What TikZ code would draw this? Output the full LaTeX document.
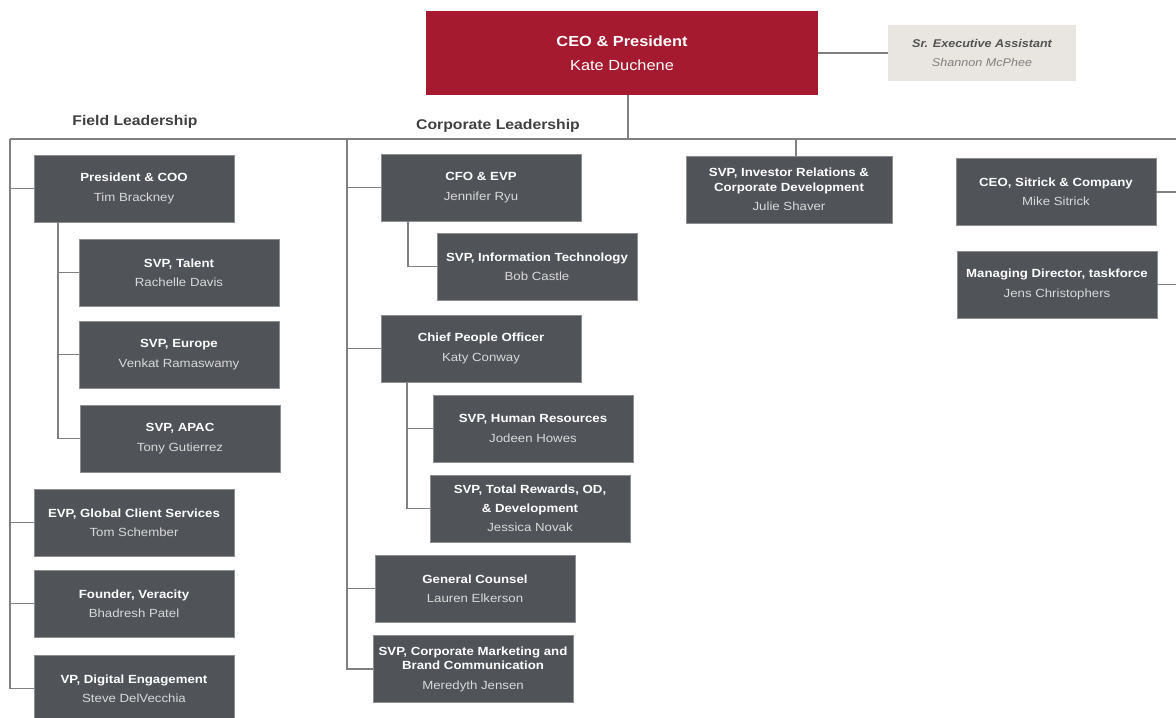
\documentclass[tikz,border=0pt]{standalone}
\usepackage{fontspec}
\setmainfont{Liberation Sans}
\newfontfamily\widefamily[FakeStretch=1.12]{Liberation Sans}
\usepackage{tikz}
\usetikzlibrary{positioning}
\definecolor{ceored}{HTML}{A51A2F}
\definecolor{boxgray}{HTML}{505358}
\definecolor{boxedge}{HTML}{8C8E92}
\definecolor{namegray}{HTML}{D9D9D9}
\definecolor{linkgray}{HTML}{808080}
\definecolor{headgray}{HTML}{404040}
\definecolor{asstfill}{HTML}{E9E6E2}
\def\role#1#2{\textbf{#1}\\[3.2pt]{\color{namegray}#2}}
\tikzset{
	person/.style={rectangle, fill=boxgray, draw=boxedge, line width=0.4pt, minimum width=5cm, minimum height=1.675cm, inner sep=0pt, align=center, text=white, font=\widefamily\fontsize{8.4}{10.5}\selectfont},
	link/.style={draw=linkgray, line width=1.4pt},
	head/.style={text=headgray, font=\widefamily\fontsize{10}{12}\selectfont\bfseries}
}

\begin{document}
\begin{tikzpicture}[x=0.025cm, y=-0.025cm]
			%%%%% START %%%%%
			\clip (0,0) rectangle (1176,717);
			
			% top
			\node[rectangle, fill=ceored, minimum width=9.8cm, minimum height=2.1cm, text=white, align=center, font=\widefamily\fontsize{10.4}{12}\selectfont] (ceo) at (622, 53) {\textbf{CEO \& President}\\[5pt]Kate Duchene};
			\node[rectangle, fill=asstfill, minimum width=4.7cm, minimum height=1.4cm, align=center, font=\widefamily\fontsize{8}{10.5}\selectfont\itshape] (asst) at (982, 53) {{\color{headgray!90}\bfseries Sr. Executive Assistant}\\[3.5pt]{\color{gray}Shannon McPhee}};
			
			\node[head] (fieldHead) at (135, 122) {Field Leadership};
			\node[head] (corpHead) at (498, 126) {Corporate Leadership};
			
			% field leadership
			\node[person] (pres) at (134, 188.5) {\role{President \& COO}{Tim Brackney}};
			\node[person] (talent) at (179, 272.5) {\role{SVP, Talent}{Rachelle Davis}};
			\node[person] (europe) at (179, 354.5) {\role{SVP, Europe}{Venkat Ramaswamy}};
			\node[person] (apac) at (180, 438.5) {\role{SVP, APAC}{Tony Gutierrez}};
			\node[person] (evp) at (134, 522.5) {\role{EVP, Global Client Services}{Tom Schember}};
			\node[person] (founder) at (134, 603.5) {\role{Founder, Veracity}{Bhadresh Patel}};
			\node[person] (vpdig) at (134, 688.5) {\role{VP, Digital Engagement}{Steve DelVecchia}};
			
			% corporate leadership
			\node[person] (cfo) at (481, 187.5) {\role{CFO \& EVP}{Jennifer Ryu}};
			\node[person] (it) at (537, 266.5) {\role{SVP, Information Technology}{Bob Castle}};
			\node[person] (cpo) at (481, 348.5) {\role{Chief People Officer}{Katy Conway}};
			\node[person] (hr) at (533, 428.5) {\role{SVP, Human Resources}{Jodeen Howes}};
			\node[person] (rewards) at (530, 508.5) {\textbf{SVP, Total Rewards, OD,}\\[3.2pt]\textbf{\& Development}\\[3.2pt]{\color{namegray}Jessica Novak}};
			\node[person] (counsel) at (475, 588.5) {\role{General Counsel}{Lauren Elkerson}};
			\node[person] (mkt) at (473, 669) {\textbf{SVP, Corporate Marketing and}\\\textbf{Brand Communication}\\[3.2pt]{\color{namegray}Meredyth Jensen}};
			
			% right side
			\node[person, minimum width=5.15cm] (inv) at (789, 189.5) {\textbf{SVP, Investor Relations \&}\\\textbf{Corporate Development}\\[3.2pt]{\color{namegray}Julie Shaver}};
			\node[person] (sitrick) at (1056, 192) {\role{CEO, Sitrick \& Company}{Mike Sitrick}};
			\node[person] (taskforce) at (1057, 284.5) {\role{Managing Director, taskforce}{Jens Christophers}};
			
			% lines
			\coordinate (busL) at (10, 139);
			\coordinate (busR) at (1176, 139);
			\coordinate (ceoDrop) at (628, 139);
			\coordinate (invDrop) at (796, 139);
			\coordinate (corpTop) at (347, 139);
			\coordinate (presStem) at (58, 222);
			\coordinate (cfoStem) at (408, 221);
			\coordinate (cpoStem) at (407, 382);
			\coordinate (rightEdge) at (1176, 0);
			
			\draw[link] (busL) -- (busR);
			\draw[link] (ceo.south -| ceoDrop) -- (ceoDrop);
			\draw[link] (ceo.east) -- (asst.west);
			\draw[link] (inv.north -| invDrop) -- (invDrop);
			
			\draw[link] (busL) |- (vpdig.west);
			\draw[link] (pres.west) -- (pres.west -| busL);
			\draw[link] (evp.west) -- (evp.west -| busL);
			\draw[link] (founder.west) -- (founder.west -| busL);
			\draw[link] (presStem) |- (apac.west);
			\draw[link] (talent.west) -- (talent.west -| presStem);
			\draw[link] (europe.west) -- (europe.west -| presStem);
			
			\draw[link] (corpTop) |- (mkt.west);
			\draw[link] (cfo.west) -- (cfo.west -| corpTop);
			\draw[link] (cpo.west) -- (cpo.west -| corpTop);
			\draw[link] (counsel.west) -- (counsel.west -| corpTop);
			\draw[link] (cfoStem) |- (it.west);
			\draw[link] (cpoStem) |- (rewards.west);
			\draw[link] (hr.west) -- (hr.west -| cpoStem);
			
			\draw[link] (sitrick.east) -- (sitrick.east -| rightEdge);
			\draw[link] (taskforce.east) -- (taskforce.east -| rightEdge);
			%%%%% END %%%%%
\end{tikzpicture}
\end{document}
